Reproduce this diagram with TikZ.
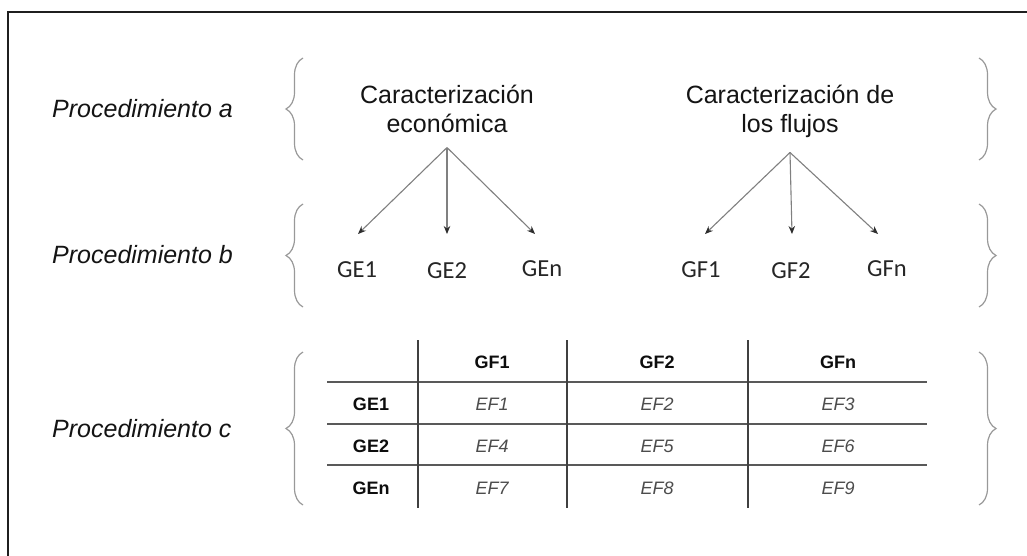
\documentclass[tikz,border=0pt]{standalone}
\usepackage{fontspec}
\setmainfont{Liberation Sans}
\newfontfamily\calfont{Carlito}
\usetikzlibrary{arrows.meta,decorations.pathreplacing,calc}

\begin{document}
\begin{tikzpicture}[x=1pt,y=-1pt,
  lbl/.style={font=\fontsize{25}{29}\selectfont\itshape, text=black!92, anchor=base west, inner sep=0pt},
  head/.style={font=\fontsize{25}{29}\selectfont, text=black!92, align=center, anchor=north, inner sep=0pt},
  grp/.style={font=\calfont\fontsize{24.5}{28}\selectfont, text=black!85, anchor=base, inner sep=0pt},
  thd/.style={font=\fontsize{18}{20}\selectfont\bfseries, text=black!95, anchor=base, inner sep=0pt},
  tcell/.style={font=\fontsize{18}{20}\selectfont\itshape, text=black!70, anchor=base, inner sep=0pt},
  lbrace/.style={decorate, decoration={brace, amplitude=17pt}, draw=black!40, line width=1.2pt},
  link/.style={draw=black!50, line width=1.1pt, -{Stealth[length=8pt,width=6.5pt,color=black!82]}},
  hrule/.style={draw=black!65, line width=2.4pt},
  vrule/.style={draw=black!75, line width=1.3pt}
]
\useasboundingbox (0,0) rectangle (1027,555);
\fill[white] (0,0) rectangle (1027,555);

% frame
\draw[black!88, line width=2pt] (8,560) -- (8,12) -- (1032,12);

% row labels
\node[lbl] (pa) at (52,117) {Procedimiento a};
\node[lbl] (pb) at (52,263) {Procedimiento b};
\node[lbl] (pc) at (52,437) {Procedimiento c};

% braces
\draw[lbrace] (303,160) -- (303,58);
\draw[lbrace] (303,307) -- (303,204);
\draw[lbrace] (303,505) -- (303,352);
\draw[lbrace] (979,58) -- (979,160);
\draw[lbrace] (979,204) -- (979,307);
\draw[lbrace] (979,352) -- (979,505);

% characterisation headings
\node[head] (ce) at (447,84.5) {Caracterización\\económica};
\node[head] (cf) at (790,84.5) {Caracterización de\\los flujos};

% groups
\node[grp] (ge1) at (357,277) {GE1};
\node[grp] (ge2) at (447,278) {GE2};
\node[grp] (gen) at (542,276) {GEn};
\node[grp] (gf1) at (701,277) {GF1};
\node[grp] (gf2) at (791,278) {GF2};
\node[grp] (gfn) at (887,276) {GFn};

% arrows
\coordinate (ceo) at ($(ce.south)+(0,15)$);
\coordinate (cfo) at ($(cf.south)+(0,15)$);
\coordinate (ae1) at (358,234);
\coordinate (ae2) at (447,234);
\coordinate (aen) at (535,234);
\coordinate (af1) at (705,234);
\coordinate (af2) at (792,234);
\coordinate (afn) at (878,234);
\foreach \t in {ae1,ae2,aen} \draw[link] (ceo) -- (\t);
\foreach \t in {af1,af2,afn} \draw[link] (cfo) -- (\t);

% table
\foreach \y in {382,424,465} \draw[hrule] (327,\y) -- (927,\y);
\foreach \x in {418,567,748} \draw[vrule] (\x,340) -- (\x,508);

\node[thd] (h1) at (492,368.5) {GF1};
\node[thd] (h2) at (657,368.5) {GF2};
\node[thd] (h3) at (838,368.5) {GFn};
\node[thd] (r1) at (371,410.5) {GE1};
\node[thd] (r2) at (371,452) {GE2};
\node[thd] (r3) at (371,494) {GEn};

\node[tcell] (c11) at (492,410.5) {EF1};
\node[tcell] (c12) at (657,410.5) {EF2};
\node[tcell] (c13) at (838,410.5) {EF3};
\node[tcell] (c21) at (492,452) {EF4};
\node[tcell] (c22) at (657,452) {EF5};
\node[tcell] (c23) at (838,452) {EF6};
\node[tcell] (c31) at (492,494) {EF7};
\node[tcell] (c32) at (657,494) {EF8};
\node[tcell] (c33) at (838,494) {EF9};
\end{tikzpicture}
\end{document}
